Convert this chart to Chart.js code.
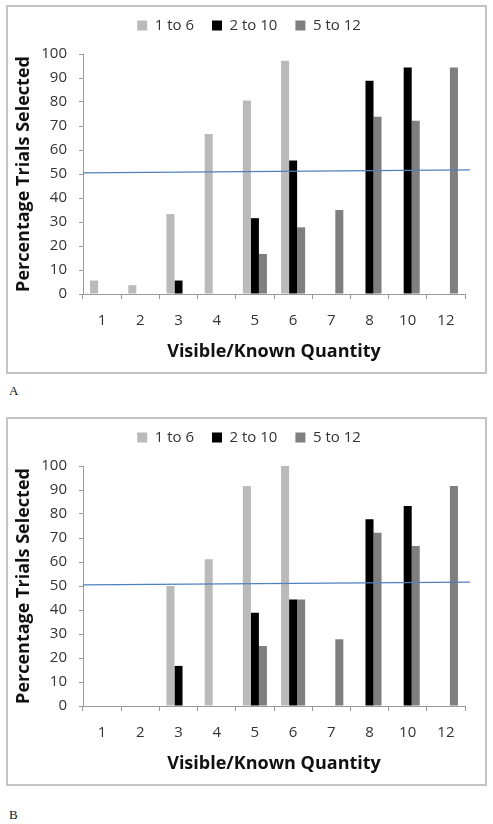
<!DOCTYPE html>
<html lang="en">
<head>
    <meta charset="UTF-8">
    <title>Percentage Trials Selected</title>
    <script src="https://cdn.jsdelivr.net/npm/chart.js"></script>
    <style>
        body { margin: 0; background: #fff; width: 493px; height: 824px; position: relative; overflow: hidden; }
        .panel { position: absolute; left: 6px; width: 481px; height: 369px; box-sizing: border-box; border: 2px solid #c4c4c4; }
        canvas { position: absolute; left: 6px; }
        .tag { position: absolute; left: 9px; font: 13px "Liberation Serif", serif; color: #111; }
    </style>
</head>
<body>
    <div class="panel" style="top:5px"></div>
    <canvas id="chartA" width="481" height="374" style="top:0px"></canvas>
    <div class="tag" style="top:383px">A</div>

    <div class="panel" style="top:417px"></div>
    <canvas id="chartB" width="481" height="374" style="top:412px"></canvas>
    <div class="tag" style="top:807px">B</div>

<script>
// ======= Data =======
const categories = ['1', '2', '3', '4', '5', '6', '7', '8', '10', '12'];
const seriesNames = ['1 to 6', '2 to 10', '5 to 12'];
const yTicks = [0, 10, 20, 30, 40, 50, 60, 70, 80, 90, 100];

// panel A
const oneToSixA     = [5.6, 3.7, 33.3, 66.7, 80.6, 97.2, null, null, null, null];
const twoToTenA     = [null, null, 5.6, null, 31.6, 55.6, null, 88.9, 94.4, null];
const fiveToTwelveA = [null, null, null, null, 16.7, 27.8, 35.0, 73.9, 72.2, 94.4];

// panel B
const oneToSixB     = [0, 0, 50.0, 61.1, 91.7, 100, null, null, null, null];
const twoToTenB     = [null, null, 16.7, null, 38.9, 44.4, null, 77.8, 83.3, null];
const fiveToTwelveB = [null, null, null, null, 25.0, 44.4, 27.8, 72.2, 66.7, 91.7];

// chance line, in category-slot units (-0.5 = left edge of the plot)
const chanceX = [-0.5, 9.63];
const chanceA = [50.5, 51.7];
const chanceB = [50.5, 51.6];

// ======= Common config =======
// bars sit on a linear axis (one slot per category) so the line can share it
const slots = categories.map((c, i) => i);
const colors = ['#bababa', '#000000', '#7f7f7f'];
const textColor = '#333';
const fontName = '"Open Sans", "Liberation Sans", sans-serif';

// extra room under the legend
const legendGap = {
    id: 'legendGap',
    beforeInit(chart) {
        const fit = chart.legend.fit;
        chart.legend.fit = function () {
            fit.bind(chart.legend)();
            this.height += 11;
        };
    }
};

function barDataset(label, data, color) {
    return {
        type: 'bar',
        label: label,
        data: data,
        backgroundColor: color,
        borderWidth: 0,
        categoryPercentage: 0.63,
        barPercentage: 1
    };
}

function lineDataset(ys) {
    return {
        type: 'line',
        label: 'chance',
        data: chanceX.map((x, i) => ({ x: x, y: ys[i] })),
        borderColor: '#4f81bd',
        borderWidth: 1.2,
        pointRadius: 0,
        fill: false,
        clip: false,
        order: -1
    };
}

function makeChart(id, s1, s2, s3, chance) {
    return new Chart(document.getElementById(id), {
        data: {
            labels: slots,
            datasets: [
                barDataset(seriesNames[0], s1, colors[0]),
                barDataset(seriesNames[1], s2, colors[1]),
                barDataset(seriesNames[2], s3, colors[2]),
                lineDataset(chance)
            ]
        },
        options: {
            responsive: false,
            animation: false,
            layout: { autoPadding: false, padding: { left: 27, right: 22, top: 0, bottom: 0 } },
            plugins: {
                tooltip: { enabled: false },
                legend: {
                    position: 'top',
                    labels: {
                        boxWidth: 10,
                        boxHeight: 10,
                        padding: 18,
                        color: textColor,
                        font: { family: fontName, size: 15 },
                        filter: item => item.datasetIndex < 3
                    }
                }
            },
            scales: {
                x: {
                    type: 'linear',
                    bounds: 'data',
                    offset: false,
                    min: -0.5,
                    max: slots.length - 0.5,
                    afterBuildTicks(scale) { scale.ticks = slots.map(v => ({ value: v })); },
                    grid: { display: true, drawOnChartArea: false, offset: true, tickLength: 5, color: '#9a9a9a' },
                    border: { display: true, color: '#9a9a9a' },
                    ticks: {
                        autoSkip: false,
                        includeBounds: false,
                        maxRotation: 0,
                        color: textColor,
                        padding: 13,
                        font: { family: fontName, size: 15 },
                        callback: v => categories[v]
                    },
                    title: {
                        display: true,
                        text: 'Visible/Known Quantity',
                        color: '#111',
                        font: { family: fontName, size: 18, weight: 'bold' },
                        padding: { top: 0, bottom: 11 }
                    },
                    afterFit(scale) {
                        scale.height = 80;
                        scale.paddingLeft = 0;
                        scale.paddingRight = 0;
                    }
                },
                y: {
                    min: 0,
                    max: 100,
                    afterBuildTicks(scale) { scale.ticks = yTicks.map(v => ({ value: v })); },
                    grid: { display: true, drawOnChartArea: false, tickLength: 4, color: '#9a9a9a' },
                    border: { display: true, color: '#9a9a9a' },
                    ticks: { color: textColor, padding: 12, font: { family: fontName, size: 15 } },
                    title: {
                        display: true,
                        text: 'Percentage Trials Selected',
                        color: '#111',
                        font: { family: fontName, size: 18, weight: 'bold' },
                        padding: { top: -19.8, bottom: 0 }
                    },
                    afterFit(scale) { scale.width = 50; }
                }
            }
        },
        plugins: [legendGap]
    });
}

makeChart('chartA', oneToSixA, twoToTenA, fiveToTwelveA, chanceA);
makeChart('chartB', oneToSixB, twoToTenB, fiveToTwelveB, chanceB);
</script>
</body>
</html>
